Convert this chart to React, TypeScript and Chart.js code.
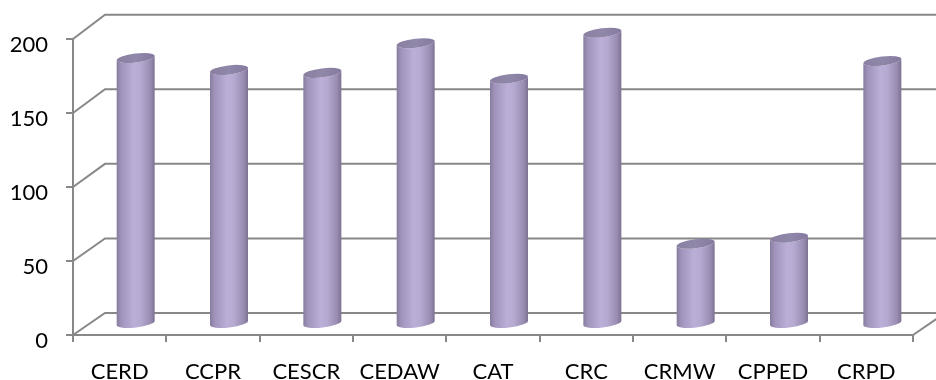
import React, { useEffect, useRef } from "react";
import { Chart, registerables } from "chart.js";

Chart.register(...registerables);

const categories = ["CERD", "CCPR", "CESCR", "CEDAW", "CAT", "CRC", "CRMW", "CPPED", "CRPD"];
const seriesValues = [179, 171, 169, 189, 165, 196, 54, 58, 177];
const yTicks = [0, 50, 100, 150, 200];

const DEPTH_X = 32;
const DEPTH_Y = -22;
const PERSP = 0.008;
const GRID = "#888888";

const backY = (yFront: number, bottom: number) => yFront + DEPTH_Y - (bottom - yFront) * PERSP;

const wallPlugin = {
  id: "wall3d",
  beforeDatasetsDraw(chart: any) {
    const { ctx, chartArea, scales } = chart;
    const ys = scales.y;
    const { left, right, bottom } = chartArea;
    ctx.save();
    ctx.strokeStyle = GRID;
    ctx.lineWidth = 2;
    yTicks.forEach((v) => {
      const yf = ys.getPixelForValue(v);
      const yb = backY(yf, bottom);
      ctx.beginPath();
      ctx.moveTo(left, yf);
      ctx.lineTo(left + DEPTH_X, yb);
      ctx.lineTo(right + DEPTH_X, yb);
      ctx.stroke();
    });
    ctx.beginPath();
    ctx.moveTo(right, bottom);
    ctx.lineTo(right + DEPTH_X, backY(bottom, bottom));
    ctx.stroke();
    ctx.restore();
  },
  afterDatasetsDraw(chart: any) {
    const { ctx, chartArea } = chart;
    const meta = chart.getDatasetMeta(0);
    const rot = -0.12;
    const ry = 4.5;
    ctx.save();
    meta.data.forEach((bar: any) => {
      const p = bar.getProps(["x", "y", "base", "width"], true);
      const cx = p.x + DEPTH_X / 2;
      const half = (yy: number) => (yy + backY(yy, chartArea.bottom)) / 2;
      const topY = half(p.y);
      const baseY = half(p.base);
      const rx = p.width / 2;
      const ex = rx * Math.cos(rot);
      const ey = rx * Math.sin(rot);
      const g = ctx.createLinearGradient(cx - rx, 0, cx + rx, 0);
      g.addColorStop(0, "#877b9e");
      g.addColorStop(0.12, "#9f93bb");
      g.addColorStop(0.45, "#bcafd7");
      g.addColorStop(0.62, "#b7aad2");
      g.addColorStop(0.88, "#998db2");
      g.addColorStop(1, "#7c7092");
      ctx.beginPath();
      ctx.moveTo(cx + ex, topY + ey);
      ctx.lineTo(cx + ex, baseY + ey);
      ctx.ellipse(cx, baseY, rx, ry, rot, 0, Math.PI, false);
      ctx.lineTo(cx - ex, topY - ey);
      ctx.ellipse(cx, topY, rx, ry, rot, Math.PI, 0, true);
      ctx.closePath();
      ctx.fillStyle = g;
      ctx.fill();
      const cg = ctx.createLinearGradient(cx - rx, 0, cx + rx, 0);
      cg.addColorStop(0, "#8a7fa1");
      cg.addColorStop(0.5, "#9088a9");
      cg.addColorStop(1, "#8479a0");
      ctx.beginPath();
      ctx.ellipse(cx, topY, rx, ry, rot, 0, Math.PI * 2);
      ctx.fillStyle = cg;
      ctx.fill();
    });
    ctx.restore();
  },
};

export default function App() {
  const ref = useRef<HTMLCanvasElement | null>(null);
  useEffect(() => {
    document.body.style.margin = "0";
    const canvas = ref.current;
    if (!canvas) return;
    const font = { family: "Lato", size: 22 };
    const chart = new Chart(canvas, {
      type: "bar",
      data: {
        labels: categories,
        datasets: [
          {
            data: seriesValues,
            backgroundColor: "rgba(0,0,0,0)",
            borderWidth: 0,
            categoryPercentage: 1,
            barPercentage: 0.41,
          },
        ],
      },
      options: {
        animation: false,
        responsive: false,
        devicePixelRatio: 1,
        layout: { padding: { top: 39, right: 23, left: 0, bottom: 0 } },
        plugins: { legend: { display: false }, tooltip: { enabled: false } },
        scales: {
          x: {
            offset: true,
            grid: { drawOnChartArea: false, drawTicks: true, tickLength: 7, color: GRID, lineWidth: 2, offset: true },
            border: { display: true, color: GRID, width: 2 },
            ticks: { color: "#000", font, padding: 17, maxRotation: 0, autoSkip: false },
            afterFit: (s: any) => { s.height = 45; },
          },
          y: {
            min: 0,
            max: 200,
            afterBuildTicks: (s: any) => { s.ticks = yTicks.map((v) => ({ value: v })); },
            grid: { drawOnChartArea: false, drawTicks: true, tickLength: 7, color: GRID, lineWidth: 2 },
            border: { display: true, color: GRID, width: 2 },
            ticks: { color: "#000", font, padding: 18, labelOffset: 6 },
            afterFit: (s: any) => { s.width = 73; },
          },
        },
      },
      plugins: [wallPlugin],
    });
    return () => chart.destroy();
  }, []);
  return (
    <div style={{ position: "absolute", left: 0, top: 0, width: 936, height: 380 }}>
      <canvas ref={ref} width={936} height={380} />
    </div>
  );
}
